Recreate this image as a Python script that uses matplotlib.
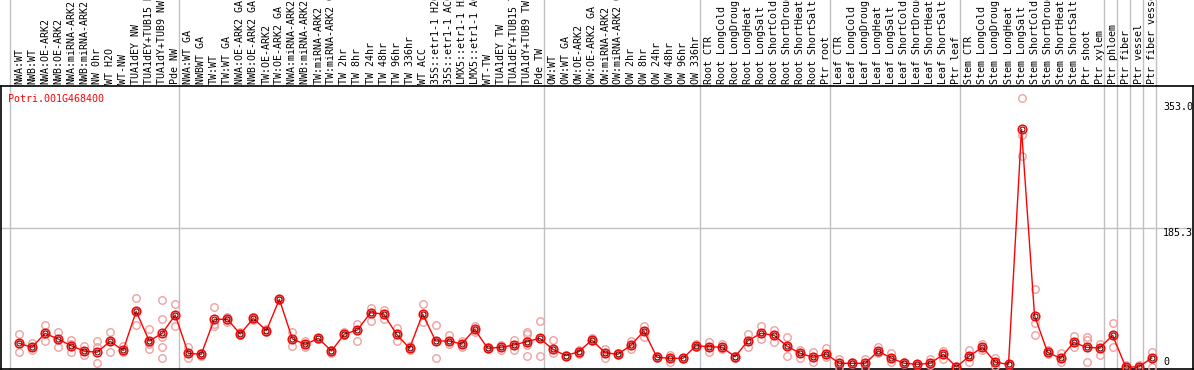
import matplotlib
matplotlib.use('Agg')
import matplotlib.pyplot as plt

# ── Data: expression of Potri.001G468400 per sample ─────────────────────────

GENE = 'Potri.001G468400'

SAMPLES = [
    'NWA:WT', 'NWB:WT', 'NWA:OE-ARK2', 'NWB:OE-ARK2', 'NWA:miRNA-ARK2',
    'NWB:miRNA-ARK2', 'NW 0hr', 'WT H2O', 'WT-NW', 'TUA1dEY NW',
    'TUA1dEY+TUB15 NW', 'TUA1dY+TUB9 NW', 'Pde NW',
    'NWA:WT GA', 'NWBWT GA', 'TW:WT', 'TW:WT GA', 'NWA:OE-ARK2 GA',
    'NWB:OE-ARK2 GA', 'TW:OE-ARK2', 'TW:OE-ARK2 GA', 'NWA:miRNA-ARK2 GA',
    'NWB:miRNA-ARK2 GA', 'TW:miRNA-ARK2', 'TW:miRNA-ARK2 GA', 'TW 2hr',
    'TW 8hr', 'TW 24hr', 'TW 48hr', 'TW 96hr', 'TW 336hr', 'WT ACC',
    '35S::etr1-1 H2O', '35S::etr1-1 ACC', 'LMX5::etr1-1 H2O',
    'LMX5::etr1-1 ACC', 'WT-TW', 'TUA1dEY TW', 'TUA1dEY+TUB15 TW',
    'TUA1dY+TUB9 TW', 'Pde TW',
    'OW:WT', 'OW:WT GA', 'OW:OE-ARK2', 'OW:OE-ARK2 GA', 'OW:miRNA-ARK2',
    'OW:miRNA-ARK2 GA', 'OW 2hr', 'OW 8hr', 'OW 24hr', 'OW 48hr', 'OW 96hr',
    'OW 336hr',
    'Root CTR', 'Root LongCold', 'Root LongDrought', 'Root LongHeat',
    'Root LongSalt', 'Root ShortCold', 'Root ShortDrought', 'Root ShortHeat',
    'Root ShortSalt', 'Ptr root',
    'Leaf CTR', 'Leaf LongCold', 'Leaf LongDrought', 'Leaf LongHeat',
    'Leaf LongSalt', 'Leaf ShortCold', 'Leaf ShortDrought', 'Leaf ShortHeat',
    'Leaf ShortSalt', 'Ptr leaf',
    'Stem CTR', 'Stem LongCold', 'Stem LongDrought', 'Stem LongHeat',
    'Stem LongSalt', 'Stem ShortCold', 'Stem ShortDrought', 'Stem ShortHeat',
    'Stem ShortSalt', 'Ptr shoot', 'Ptr xylem',
    'Ptr phloem', 'Ptr fiber', 'Ptr vessel', 'Ptr fiber vessel',
]

# mean value per sample
MEANS = [
    31.6, 26.2, 44.9, 37.3, 28.4, 21.3, 19.6, 34.2, 22.2, 74.2, 34.7, 44.9, 69.3,
    18.2, 16.9, 63.6, 63.6, 44.0, 64.9, 48.4, 90.2, 37.3, 30.2, 38.2, 21.3,
    44.0, 49.3, 72.4, 70.7, 43.6, 24.9, 70.7, 34.7, 34.7, 30.7, 50.2, 24.9,
    26.2, 29.3, 33.8, 38.2,
    23.6, 15.1, 20.4, 36.0, 19.1, 16.9, 28.9, 48.0, 12.9, 11.6, 11.6, 28.4,
    27.1, 26.2, 13.8, 35.1, 44.9, 42.2, 27.6, 18.2, 12.9, 17.3,
    4.9, 4.9, 4.9, 21.3, 11.6, 4.9, 3.6, 4.9, 16.9, 0.0,
    14.7, 26.2, 6.2, 3.6, 317.0, 68.4, 19.6, 11.6, 32.9, 26.2, 25.3,
    42.2, 0.0, 0.0, 12.0,
]

# individual replicates
REPLICATES = [
    [44, 31, 20], [32, 26, 22], [56, 45, 35], [47, 37, 27], [36, 30, 20],
    [28, 21, 16], [34, 27, 5], [47, 34, 20], [28, 22, 20], [92, 74, 56],
    [50, 35, 30, 24], [89, 64, 40, 26, 12], [84, 69, 54],
    [26, 18, 12], [19, 17, 15], [80, 57, 54], [66, 63, 60], [46, 44, 42],
    [67, 65, 62], [51, 48, 46], [91, 90, 89], [47, 37, 28], [34, 30, 26],
    [39, 38, 37], [23, 21, 19], [46, 44, 42], [57, 49, 35], [78, 72, 61],
    [76, 71, 64], [52, 44, 34], [28, 25, 22], [84, 71, 60], [56, 35, 12],
    [43, 35, 30], [34, 31, 27], [54, 50, 46], [26, 25, 24], [29, 26, 23],
    [36, 29, 22], [47, 44, 34, 29, 14], [61, 38, 14],
    [36, 24, 18], [16, 15, 14], [23, 20, 17], [38, 36, 34], [24, 19, 12],
    [18, 17, 16], [34, 29, 24], [54, 48, 40], [14, 13, 12], [16, 12, 7],
    [12, 12, 11], [30, 28, 27],
    [33, 27, 20], [31, 26, 24], [15, 14, 12], [44, 35, 27], [55, 45, 37],
    [49, 42, 33], [40, 28, 14], [23, 18, 12], [20, 13, 6], [25, 17, 13],
    [10, 5, 0], [6, 5, 4], [11, 5, 0], [26, 21, 18], [19, 12, 6], [6, 5, 4],
    [4, 4, 3], [10, 5, 2], [21, 17, 11], [1, 0, 0],
    [23, 15, 6], [31, 26, 22], [12, 6, 1], [4, 4, 3], [359, 309, 282],
    [104, 59, 42], [22, 20, 17], [18, 12, 6], [41, 33, 27], [40, 36, 26, 6],
    [31, 25, 16],
    [59, 42, 27], [3, 0, 0], [2, 0, 0], [20, 12, 0],
]

# group boundaries (sample index where a new group starts)
GROUP_EDGES = [0, 13, 41, 53, 63, 73, 84, 85, 86, 87, 88]

Y_TICKS = [353.0, 185.3, 0]

# ── Figure ────────────────────────────────────────────────────────────────

W, H = 1194, 370
fig = plt.figure(figsize=(W / 100, H / 100), dpi=100)
ax = fig.add_axes([1 / W, 1 / H, 1192 / W, 283 / H])

MONO = 'DejaVu Sans Mono'
RED = '#ff0000'
PALE = '#f0a0a0'
GRID = '#c0c0c0'

xs = list(range(len(SAMPLES)))

# replicates (pale circles)
for x, reps in zip(xs, REPLICATES):
    ax.plot([x] * len(reps), reps, 'o', ms=5.4, mfc='none', mec=PALE, mew=1.0,
            zorder=3, clip_on=False)

# mean line + markers
ax.plot(xs, MEANS, '-', color=RED, lw=1, zorder=4)
ax.plot(xs, MEANS, 'o', ms=6.2, mfc='none', mec=RED, mew=1.1, zorder=5)
ax.plot(xs, MEANS, 'o', ms=3.6, mfc='none', mec='#400000', mew=0.7, zorder=6)

# separators extend up through the label band
top_ext = 1 + 86 / 283
for b in GROUP_EDGES:
    ax.axvline(b - 0.69, ymin=0, ymax=top_ext, color=GRID, lw=1,
               clip_on=False, zorder=1)
ax.axhline(185.3, color=GRID, lw=1, zorder=1)

ax.set_xlim(-1.38, 90.17)
ax.set_ylim(-2.7, 374.7)
ax.set_xticks([])
ax.set_yticks([])
for s in ax.spines.values():
    s.set_color('black')
    s.set_linewidth(1.2)

# sample labels above the plot (long ones run off the top, as in the source)
for x, lab in zip(xs, SAMPLES):
    ax.text(x, 1.008, lab, transform=ax.get_xaxis_transform(), rotation=90,
            ha='center', va='bottom', family=MONO, fontsize=7.2,
            clip_on=False)

# value labels on the right
for v in Y_TICKS:
    if v == 0:
        ax.text(0.975, v + 6.7, '0', transform=ax.get_yaxis_transform(),
                ha='left', va='center', family=MONO, fontsize=7.2)
    else:
        ax.text(0.975, v - 6, f'{v:.1f}', transform=ax.get_yaxis_transform(),
                ha='left', va='center', family=MONO, fontsize=7.2)

ax.text(0.006, 0.955, GENE, transform=ax.transAxes, color=RED,
        ha='left', va='center', family=MONO, fontsize=7.2)

fig.savefig('out.png', dpi=100)
